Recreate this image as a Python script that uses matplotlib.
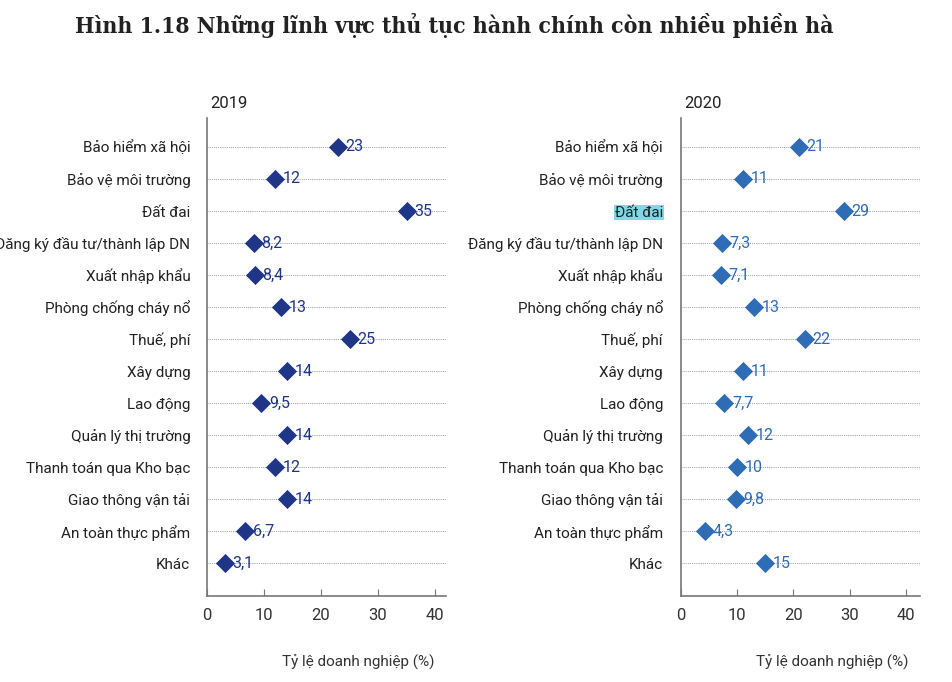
import matplotlib
matplotlib.use("Agg")
import matplotlib.pyplot as plt

categories = [
    "Bảo hiểm xã hội", "Bảo vệ môi trường", "Đất đai", "Đăng ký đầu tư/thành lập DN",
    "Xuất nhập khẩu", "Phòng chống cháy nổ", "Thuế, phí", "Xây dựng", "Lao động",
    "Quản lý thị trường", "Thanh toán qua Kho bạc", "Giao thông vận tải",
    "An toàn thực phẩm", "Khác",
]
values_2019 = [23, 12, 35, 8.2, 8.4, 13, 25, 14, 9.5, 14, 12, 14, 6.7, 3.1]
values_2020 = [21, 11, 29, 7.3, 7.1, 13, 22, 11, 7.7, 12, 10, 9.8, 4.3, 15]
xticks = [0, 10, 20, 30, 40]
title = "Hình 1.18 Những lĩnh vực thủ tục hành chính còn nhiều phiền hà"
xlabel = "Tỷ lệ doanh nghiệp (%)"

FONT = ["Roboto", "DejaVu Sans"]
plt.rcParams["font.family"] = FONT

def fmt(v):
    if float(v).is_integer():
        return str(int(v))
    return ("%g" % v).replace(".", ",")

fig = plt.figure(figsize=(9.52, 6.82), dpi=100)
H = 682.0
W = 952.0

panels = [
    (207, 239.4, 42.0, values_2019, "#1f3587", "2019", False, 12),
    (681, 239.0, 42.5, values_2020, "#2e6cb5", "2020", True, 13),
]
n = len(categories)
for (x0, wpx, xmax, vals, color, year, hl, pad) in panels:
    ax = fig.add_axes([x0 / W, 1 - 596 / H, wpx / W, 478 / H])
    ys = list(range(n))
    for y in ys:
        ax.axhline(y, color="#9a9a9a", lw=0.7, ls=(0, (1, 1.2)), zorder=1)
    ax.scatter(vals, ys, marker="D", s=95, color=color, zorder=3, linewidths=0)
    for v, y in zip(vals, ys):
        ax.annotate(fmt(v), (v, y), xytext=(5.5, 0), textcoords="offset points",
                    ha="left", va="center", color=color, fontsize=11.5, zorder=4)
    ax.set_xlim(0, xmax)
    ax.set_ylim(n - 1 + 1.03, -0.906)
    ax.set_yticks(ys)
    ax.set_yticklabels(categories, fontsize=11, color="#222222")
    ax.tick_params(axis="y", length=0, pad=pad)
    ax.set_xticks(xticks)
    ax.set_xticklabels([str(t) for t in xticks], fontsize=12, color="#333333")
    ax.tick_params(axis="x", direction="in", length=5, color="#777777", pad=9)
    for s in ["top", "right"]:
        ax.spines[s].set_visible(False)
    for s in ["left", "bottom"]:
        ax.spines[s].set_color("#777777")
        ax.spines[s].set_linewidth(1.2)
    ax.patch.set_alpha(0)
    if hl:
        lab = ax.get_yticklabels()[2]
        lab.set_bbox(dict(facecolor="#7fd8e8", edgecolor="none", pad=0.4))
    fig.text((x0 + 3) / W, 1 - 103 / H, year, fontsize=12, color="#222222",
             ha="left", va="center")
    fig.text((x0 + 151) / W, 1 - 662 / H, xlabel, fontsize=11,
             color="#333333", ha="center", va="center")

fig.text(454 / W, 1 - 25 / H, title, fontsize=16.5, fontweight="bold",
         family=["DejaVu Serif", "DejaVu Sans"], fontstretch="condensed",
         color="#222222", ha="center", va="center")

fig.savefig("out.png", dpi=100, facecolor="white")
